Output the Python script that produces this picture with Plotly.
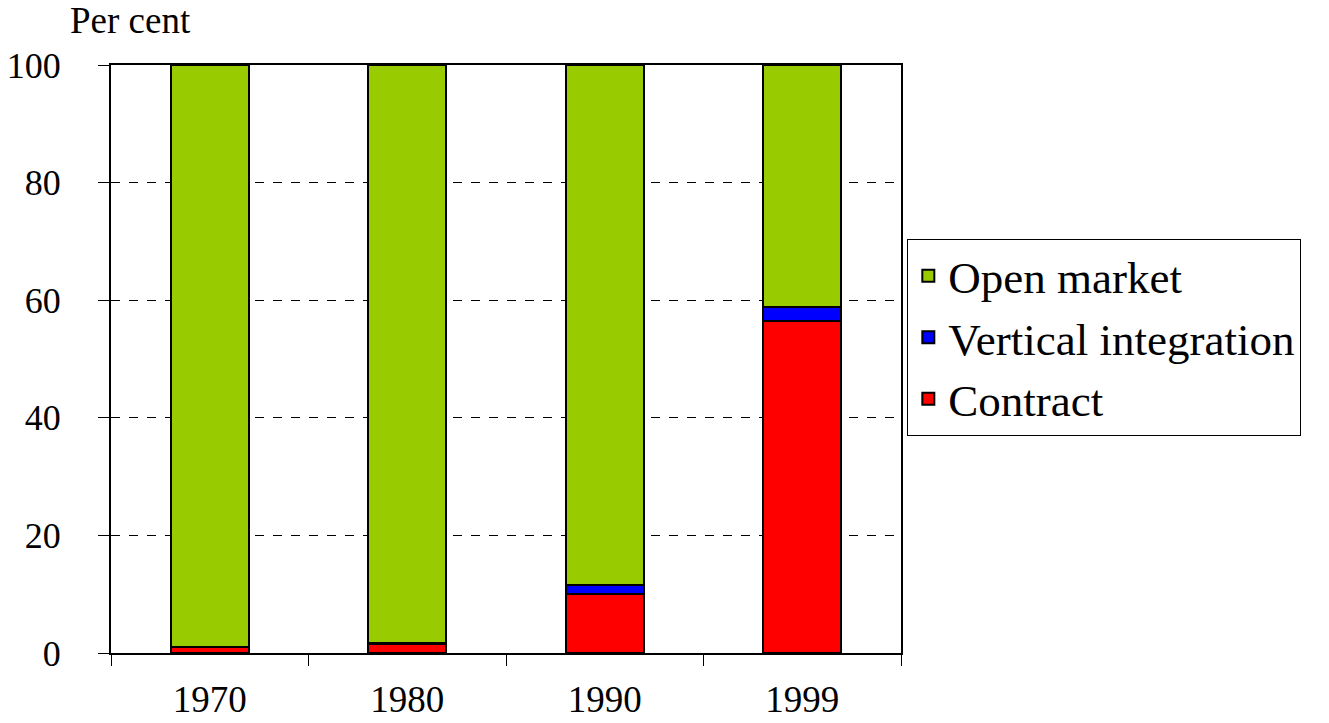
import plotly.graph_objects as go

years = ["1970", "1980", "1990", "1999"]
contract = [1.0, 1.5, 10.0, 56.5]
vertical = [0.0, 0.2, 1.5, 2.4]
open_market = [round(100 - c - v, 1) for c, v in zip(contract, vertical)]

FONT = "Liberation Serif, Times New Roman, serif"

fig = go.Figure()
for name, vals, col in [("Contract", contract, "#FF0000"),
                        ("Vertical integration", vertical, "#0000FF"),
                        ("Open market", open_market, "#99CC00")]:
    fig.add_trace(go.Bar(x=years, y=vals, name=name, marker=dict(color=col, line=dict(color="black", width=2))))

fig.update_layout(
    barmode="stack", bargap=0.605,
    width=1329, height=723,
    margin=dict(l=111, r=428, t=65, b=70),
    paper_bgcolor="white", plot_bgcolor="white",
    font=dict(family=FONT, size=38, color="black"),
    legend=dict(x=1.008, y=0.704, xanchor="left", yanchor="top", traceorder="reversed",
                bordercolor="black", borderwidth=1, font=dict(size=45),
                itemsizing="constant"),
    showlegend=True,
)
fig.update_xaxes(type="category", showline=True, linecolor="black", linewidth=2, mirror=True,
                 ticks="outside", tickson="boundaries", ticklen=11, tickcolor="black",
                 ticklabelstandoff=13, tickfont=dict(size=37), automargin=False)
fig.update_yaxes(range=[0, 100], dtick=20, showline=True, linecolor="black", linewidth=2, mirror=True,
                 ticks="outside", ticklen=11, tickcolor="black",
                 showgrid=True, gridcolor="black", griddash="dash", gridwidth=0.6,
                 ticklabelstandoff=30, tickfont=dict(size=36), zeroline=False, automargin=False)
fig.add_annotation(text="Per cent", xref="paper", yref="paper", x=0.025, y=1, yshift=22,
                   xanchor="center", yanchor="bottom", showarrow=False, font=dict(size=37))
fig.write_html("out.html", post_script="document.body.style.margin='0';",
               config={"displayModeBar": False})
